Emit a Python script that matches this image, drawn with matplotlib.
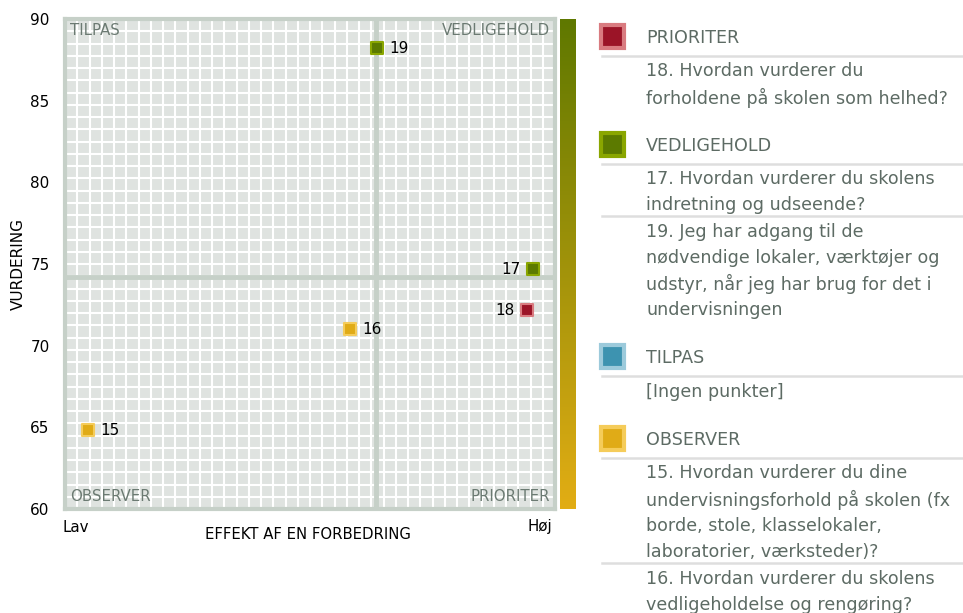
import matplotlib
matplotlib.use("Agg")
import matplotlib.pyplot as plt
import matplotlib.patches as patches
from matplotlib.colors import LinearSegmentedColormap
import numpy as np

# data
point_ids = ["15", "16", "17", "18", "19"]
effekt = [4.7, 58.2, 95.5, 94.3, 63.7]
vurdering = [64.83, 71.02, 74.69, 72.18, 88.22]
point_group = ["OBSERVER", "OBSERVER", "VEDLIGEHOLD", "PRIORITER", "VEDLIGEHOLD"]
label_side = ["right", "right", "left", "left", "right"]

x_median = 63.5
y_median = 74.2
y_ticks = [60, 65, 70, 75, 80, 85, 90]

groups = ["PRIORITER", "VEDLIGEHOLD", "TILPAS", "OBSERVER"]
group_fill = {"PRIORITER": "#9b1427", "VEDLIGEHOLD": "#5c7a00",
              "TILPAS": "#3d93b0", "OBSERVER": "#e0ab17"}
group_edge = {"PRIORITER": "#d97b80", "VEDLIGEHOLD": "#8aa600",
              "TILPAS": "#9ccadb", "OBSERVER": "#f5cc5a"}
group_items = {
    "PRIORITER": [["18. Hvordan vurderer du", "forholdene på skolen som helhed?"]],
    "VEDLIGEHOLD": [["17. Hvordan vurderer du skolens", "indretning og udseende?"],
                    ["19. Jeg har adgang til de", "nødvendige lokaler, værktøjer og",
                     "udstyr, når jeg har brug for det i", "undervisningen"]],
    "TILPAS": [["[Ingen punkter]"]],
    "OBSERVER": [["15. Hvordan vurderer du dine", "undervisningsforhold på skolen (fx",
                  "borde, stole, klasselokaler,", "laboratorier, værksteder)?"],
                 ["16. Hvordan vurderer du skolens", "vedligeholdelse og rengøring?"]],
}

W, H = 963, 613
fig = plt.figure(figsize=(W / 100, H / 100), dpi=100)
fig.patch.set_facecolor("white")

# main quadrant axes
L, R, T, B = 65, 555, 19, 509
ax = fig.add_axes([L / W, 1 - B / H, (R - L) / W, (B - T) / H])
ax.set_xlim(0, 100)
ax.set_ylim(60, 90)
ax.set_facecolor("#dfe3e0")
for v in np.linspace(0, 100, 41)[1:-1]:
    ax.axvline(v, color="white", lw=1.5, zorder=1)
for v in np.linspace(60, 90, 41)[1:-1]:
    ax.axhline(v, color="white", lw=1.5, zorder=1)
ax.axvline(x_median, color="#c6d0c8", lw=3.5, zorder=2)
ax.axhline(y_median, color="#c6d0c8", lw=3.5, zorder=2)
for s in ax.spines.values():
    s.set_color("#c6d0c8")
    s.set_linewidth(3)
ax.set_yticks(y_ticks)
ax.set_yticklabels([str(t) for t in y_ticks], fontsize=11)
ax.set_xticks([])
ax.tick_params(axis="y", length=0, pad=11)
ax.set_ylabel("VURDERING", fontsize=11, labelpad=3)

qcol = "#6b7a72"
qfs = 10.8
ax.text(0.01, 0.992, "TILPAS", transform=ax.transAxes, ha="left", va="top", fontsize=qfs, color=qcol)
ax.text(0.99, 0.992, "VEDLIGEHOLD", transform=ax.transAxes, ha="right", va="top", fontsize=qfs, color=qcol)
ax.text(0.01, 0.01, "OBSERVER", transform=ax.transAxes, ha="left", va="bottom", fontsize=qfs, color=qcol)
ax.text(0.99, 0.01, "PRIORITER", transform=ax.transAxes, ha="right", va="bottom", fontsize=qfs, color=qcol)

ax.text(-0.005, -0.037, "Lav", transform=ax.transAxes, ha="left", va="center", fontsize=10.8)
ax.text(0.995, -0.036, "Høj", transform=ax.transAxes, ha="right", va="center", fontsize=10.8)
ax.text(0.495, -0.052, "EFFEKT AF EN FORBEDRING", transform=ax.transAxes, ha="center", va="center",
        fontsize=10.7)

for pid, x, y, g, side in zip(point_ids, effekt, vurdering, point_group, label_side):
    ax.scatter(x, y, marker="s", s=85, c=group_fill[g], edgecolors=group_edge[g],
               linewidths=1.5, zorder=5)
    if side == "right":
        ax.annotate(pid, (x, y), xytext=(9, 0), textcoords="offset points",
                    ha="left", va="center", fontsize=11, zorder=6)
    else:
        ax.annotate(pid, (x, y), xytext=(-9, 0), textcoords="offset points",
                    ha="right", va="center", fontsize=11, zorder=6)

# colour bar
cax = fig.add_axes([560 / W, 1 - B / H, 16 / W, (B - T) / H])
cmap = LinearSegmentedColormap.from_list("bar", ["#e2ad14", "#5f7800"])
cax.imshow(np.linspace(0, 1, 256).reshape(-1, 1), aspect="auto", cmap=cmap, origin="lower")
cax.axis("off")

# legend drawn in pixel space
lax = fig.add_axes([0, 0, 1, 1])
lax.set_xlim(0, W)
lax.set_ylim(H, 0)
lax.axis("off")
lax.patch.set_alpha(0)

tcol = "#5d6b64"
line_h = 26.2
y = 38
for g in groups:
    lax.add_patch(patches.Rectangle((601, y - 13), 23, 23, facecolor=group_fill[g],
                                    edgecolor=group_edge[g], lw=3))
    lax.text(646, y, g, ha="left", va="center", fontsize=12.6, color=tcol)
    y += 18
    for item in group_items[g]:
        lax.plot([602, 963], [y, y], color="#dedede", lw=1.8)
        y += 15.5
        for ln in item:
            lax.text(646, y, ln, ha="left", va="center", fontsize=12.6, color=tcol)
            y += line_h
        y -= line_h - 11
    y += 48 - 11

fig.savefig("out.png", dpi=100)
